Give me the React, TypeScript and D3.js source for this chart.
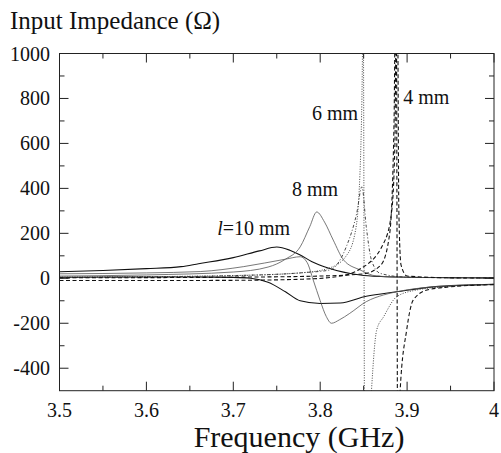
import React from "react";
import * as d3 from "d3";

// Frequency (GHz) / impedance (Ohm) pairs
const l10Real: [number, number][] = [
  [3.5, 29], [3.55, 35], [3.6, 43], [3.64, 52], [3.66, 65], [3.7, 92], [3.73, 122],
  [3.75, 139], [3.765, 125], [3.777, 104], [3.79, 75], [3.81, 45], [3.846, 15],
  [3.87, 8], [3.9, 5], [3.95, 3], [4.0, 2],
];
const l10Imag: [number, number][] = [
  [3.5, 5], [3.6, 6], [3.65, 6], [3.7, 4], [3.72, 0], [3.74, -18], [3.76, -60],
  [3.777, -100], [3.8, -112], [3.823, -110], [3.853, -80], [3.888, -60],
  [3.93, -38], [4.0, -27],
];
const l8Real: [number, number][] = [
  [3.5, 10], [3.6, 15], [3.7, 28], [3.74, 50], [3.76, 85], [3.777, 140],
  [3.788, 230], [3.796, 295], [3.805, 250], [3.815, 170], [3.827, 81],
  [3.846, 37], [3.865, 10], [3.9, 4], [4.0, 2],
];
const l8Imag: [number, number][] = [
  [3.5, 20], [3.6, 24], [3.662, 30], [3.712, 52], [3.76, 85], [3.777, 96],
  [3.785, 70], [3.792, -8], [3.8, -100], [3.807, -170], [3.813, -200],
  [3.822, -185], [3.834, -156], [3.853, -104], [3.873, -74], [3.888, -60],
  [3.93, -38], [4.0, -27],
];
const l6Real: [number, number][] = [
  [3.5, 3], [3.6, 6], [3.7, 12], [3.78, 25], [3.811, 37], [3.83, 140],
  [3.842, 289], [3.848, 407], [3.853, 230], [3.859, 81], [3.869, 22],
  [3.9, 5], [4.0, 1],
];
const l6Imag: [number, number][] = [
  [3.5, 5], [3.7, 12], [3.78, 25], [3.81, 45], [3.83, 100], [3.84, 200],
  [3.845, 400], [3.848, 800], [3.8495, 1200], [3.8515, -1200], [3.855, -800],
  [3.859, -500], [3.865, -230], [3.873, -171], [3.888, -82], [3.911, -52],
  [3.95, -36], [4.0, -27],
];
const l4Real: [number, number][] = [
  [3.5, 2], [3.7, 5], [3.8, 10], [3.85, 20], [3.87, 60], [3.88, 200],
  [3.885, 700], [3.8865, 1200], [3.889, 1200], [3.8905, 300], [3.893, 60],
  [3.9, 10], [3.95, 2], [4.0, 1],
];
const l4Imag: [number, number][] = [
  [3.5, -10], [3.6, -10], [3.7, -9], [3.78, -4], [3.82, 8], [3.844, 37],
  [3.873, 156], [3.882, 289], [3.886, 600], [3.8875, 1200], [3.8895, -1200],
  [3.892, -500], [3.8995, -230], [3.907, -97], [3.923, -52], [3.95, -38],
  [4.0, -28],
];

const xTicks = [3.5, 3.6, 3.7, 3.8, 3.9, 4];
const xMinor = [3.55, 3.65, 3.75, 3.85, 3.95];
const yTicks = [-400, -200, 0, 200, 400, 600, 800, 1000];
const yMinor = [-300, -100, 100, 300, 500, 700, 900];

const labels = [
  { text: "4 mm", f: 3.8955, v: 775 },
  { text: "6 mm", f: 3.7905, v: 705 },
  { text: "8 mm", f: 3.7675, v: 365 },
];

const W = 501, H = 453;
const L = 59.5, R = 494, T = 53.5, B = 390.7;
const FONT = "Liberation Serif, DejaVu Serif, serif";

export default function App() {
  const x = d3.scaleLinear().domain([3.5, 4]).range([L, R]);
  const y = d3.scaleLinear().domain([-500, 1000]).range([B, T]);
  const line = d3
    .line<[number, number]>()
    .x((d) => x(d[0]))
    .y((d) => y(d[1]))
    .curve(d3.curveMonotoneX);

  const series = [
    { d: l10Real, stroke: "#111", w: 1.1, dash: "" },
    { d: l10Imag, stroke: "#111", w: 1.1, dash: "" },
    { d: l8Real, stroke: "#555", w: 0.8, dash: "" },
    { d: l8Imag, stroke: "#555", w: 0.8, dash: "" },
    { d: l6Real, stroke: "#333", w: 0.9, dash: "3,2,1,2" },
    { d: l6Imag, stroke: "#333", w: 0.9, dash: "1,1.5" },
    { d: l4Real, stroke: "#111", w: 1.1, dash: "4,2.5" },
    { d: l4Imag, stroke: "#111", w: 1.1, dash: "4,2.5" },
  ];

  const ts = { fontFamily: FONT };

  return (
    <svg
      width={W}
      height={H}
      style={{ position: "absolute", left: 0, top: 0, background: "#fff", fontFamily: FONT }}
    >
      <defs>
        <clipPath id="plot">
          <rect x={L} y={T} width={R - L} height={B - T} />
        </clipPath>
      </defs>
      <rect x={0} y={0} width={W} height={H} fill="#fff" />
      <g clipPath="url(#plot)" fill="none">
        {series.map((s, i) => (
          <path
            key={i}
            d={line(s.d) || ""}
            stroke={s.stroke}
            strokeWidth={s.w}
            strokeDasharray={s.dash}
          />
        ))}
      </g>
      {/* frame */}
      <rect x={L} y={T} width={R - L} height={B - T} fill="none" stroke="#222" strokeWidth={1} />
      {/* x ticks */}
      {xTicks.map((t) => (
        <g key={"xt" + t}>
          <line x1={x(t)} x2={x(t)} y1={B} y2={B - 9} stroke="#222" />
          <line x1={x(t)} x2={x(t)} y1={T} y2={T + 9} stroke="#222" />
          <text x={x(t)} y={417} fontSize={20} textAnchor="middle" fill="#111" style={ts}>
            {d3.format("")(t)}
          </text>
        </g>
      ))}
      {xMinor.map((t) => (
        <g key={"xm" + t}>
          <line x1={x(t)} x2={x(t)} y1={B} y2={B - 5} stroke="#222" />
          <line x1={x(t)} x2={x(t)} y1={T} y2={T + 5} stroke="#222" />
        </g>
      ))}
      {yTicks.map((t) => (
        <g key={"yt" + t}>
          <line x1={L} x2={L + 9} y1={y(t)} y2={y(t)} stroke="#222" />
          <line x1={R} x2={R - 9} y1={y(t)} y2={y(t)} stroke="#222" />
          <text x={50} y={y(t) + 7} fontSize={20} textAnchor="end" fill="#111" style={ts}>
            {t}
          </text>
        </g>
      ))}
      {yMinor.map((t) => (
        <g key={"ym" + t}>
          <line x1={L} x2={L + 5} y1={y(t)} y2={y(t)} stroke="#222" />
          <line x1={R} x2={R - 5} y1={y(t)} y2={y(t)} stroke="#222" />
        </g>
      ))}
      {/* titles */}
      <text x={10} y={29} fontSize={25} fill="#111" style={ts}>
        Input Impedance (Ω)
      </text>
      <text x={299} y={447} fontSize={30} textAnchor="middle" fill="#111" style={ts}>
        Frequency (GHz)
      </text>
      {/* annotations */}
      <text x={x(3.6815)} y={y(193)} fontSize={20} fill="#111" style={ts}>
        <tspan fontStyle="italic">l</tspan>=10 mm
      </text>
      {labels.map((lb) => (
        <text key={lb.text} x={x(lb.f)} y={y(lb.v)} fontSize={20} fill="#111" style={ts}>
          {lb.text}
        </text>
      ))}
    </svg>
  );
}
